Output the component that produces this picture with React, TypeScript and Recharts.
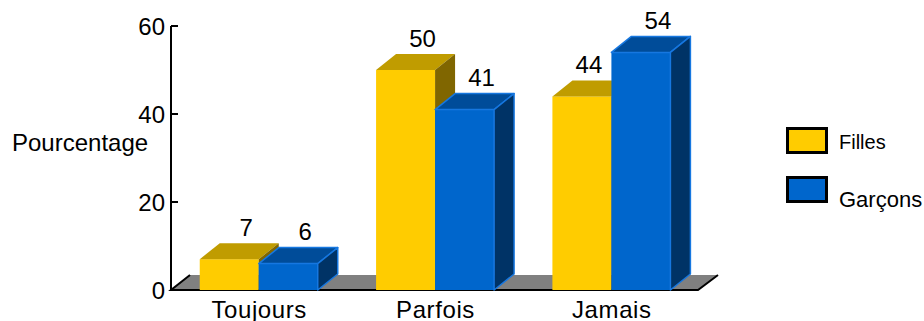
import { Bar, BarChart, LabelList, ReferenceArea, XAxis, YAxis } from 'recharts'

const categories = ['Toujours', 'Parfois', 'Jamais']
const filles = [7, 50, 44]
const garcons = [6, 41, 54]
const yTicks = [0, 20, 40, 60]

const data = categories.map((name, i) => ({ name, filles: filles[i], garcons: garcons[i] }))

const FONT = '"Liberation Sans", Arial, Helvetica, sans-serif'
// depth of the fake 3d extrusion
const DX = 20
const DY = 16

type Palette = { front: string; top: string; side: string; edge: string }

const yellow: Palette = { front: '#FFCC00', top: '#C09C00', side: '#806600', edge: 'none' }
const blue: Palette = { front: '#0066CC', top: '#004C99', side: '#003366', edge: '#1677E0' }

function Box3D(props: any) {
  const { x, y, width, height, colors } = props
  const c: Palette = colors
  if (height == null || width == null) return null
  const top = `${x},${y} ${x + DX},${y - DY} ${x + width + DX},${y - DY} ${x + width},${y}`
  const side = `${x + width},${y} ${x + width + DX},${y - DY} ${x + width + DX},${y + height - DY} ${x + width},${y + height}`
  const sw = c.edge === 'none' ? 0 : 1.5
  return (
    <g>
      <rect x={x} y={y} width={width} height={height} fill={c.front} />
      <polygon points={top} fill={c.top} stroke={c.edge} strokeWidth={sw} strokeLinejoin="round" />
      <polygon points={side} fill={c.side} stroke={c.edge} strokeWidth={sw} strokeLinejoin="round" />
    </g>
  )
}

function Floor(props: any) {
  const { x, y, width, height } = props
  const b = y + height
  const r = x + width - 2
  const d = 15
  return (
    <g>
      <polygon points={`${x},${b} ${x + DX - 1},${b - d} ${r + DX},${b - d} ${r},${b}`} fill="#808080" />
      <polyline
        points={`${x + DX - 1},${b - d} ${x},${b} ${r},${b} ${r + DX},${b - d}`}
        fill="none"
        stroke="#000"
        strokeWidth={2}
      />
    </g>
  )
}

function ValueLabel(props: any) {
  const { x, y, width, value, index, series } = props
  // a girls' label slides left when the boys' bar next to it is taller
  const blocked = series === 'filles' && garcons[index] > filles[index]
  const shift = blocked ? -13 : -3
  return (
    <text
      x={x + width / 2 + DX + shift}
      y={y - DY - 16}
      dy="0.355em"
      textAnchor="middle"
      fontSize={24}
      fontFamily={FONT}
      fill="#000"
    >
      {value}
    </text>
  )
}

function YTick(props: any) {
  const { x, y, payload } = props
  return (
    <g>
      <line x1={x + 6} x2={x + 13} y1={y} y2={y} stroke="#000" strokeWidth={2} />
      <text x={x} y={y} dy="0.355em" textAnchor="end" fontSize={24} fontFamily={FONT} fill="#000">
        {payload.value}
      </text>
    </g>
  )
}

const legendItems = [
  { label: 'Filles', color: yellow.front, top: 127, textTop: 142, size: 20 },
  { label: 'Garçons', color: blue.front, top: 176, textTop: 200, size: 22 },
]

export default function App() {
  return (
    <div style={{ position: 'absolute', left: 0, top: 0, width: 924, height: 321, background: '#fff' }}>
      <BarChart
        width={924}
        height={321}
        data={data}
        margin={{ top: 26, right: 224, bottom: 0, left: 0 }}
        barCategoryGap="16.3%"
        barGap={0}
      >
        <ReferenceArea y1={0} y2={60} ifOverflow="visible" shape={<Floor />} />
        <XAxis
          dataKey="name"
          axisLine={false}
          tickLine={false}
          tickSize={0}
          tickMargin={11}
          height={31}
          tick={{ fill: '#000', fontSize: 24, fontFamily: FONT, letterSpacing: 0.6 }}
        />
        <YAxis
          width={171}
          domain={[0, 60]}
          ticks={yTicks}
          interval={0}
          tickLine={false}
          tickSize={0}
          tickMargin={6}
          axisLine={{ stroke: '#000', strokeWidth: 2 }}
          tick={<YTick />}
          label={{
            content: () => (
              <text x={12} y={142} dy="0.355em" fontSize={24} fontFamily={FONT} fill="#000">
                Pourcentage
              </text>
            ),
          }}
        />
        <Bar dataKey="filles" isAnimationActive={false} shape={(p: any) => <Box3D {...p} colors={yellow} />}>
          <LabelList dataKey="filles" content={(p: any) => <ValueLabel {...p} series="filles" />} />
        </Bar>
        <Bar dataKey="garcons" isAnimationActive={false} shape={(p: any) => <Box3D {...p} colors={blue} />}>
          <LabelList dataKey="garcons" content={(p: any) => <ValueLabel {...p} series="garcons" />} />
        </Bar>
      </BarChart>
      {legendItems.map((it) => (
        <div key={it.label}>
          <div
            style={{
              position: 'absolute',
              left: 786,
              top: it.top,
              width: 42,
              height: 27,
              boxSizing: 'border-box',
              border: '3px solid #000',
              background: it.color,
            }}
          />
          <div
            style={{
              position: 'absolute',
              left: 839,
              top: it.textTop - 12,
              height: 24,
              lineHeight: '24px',
              fontSize: it.size,
              fontFamily: FONT,
              color: '#000',
              whiteSpace: 'nowrap',
            }}
          >
            {it.label}
          </div>
        </div>
      ))}
    </div>
  )
}
